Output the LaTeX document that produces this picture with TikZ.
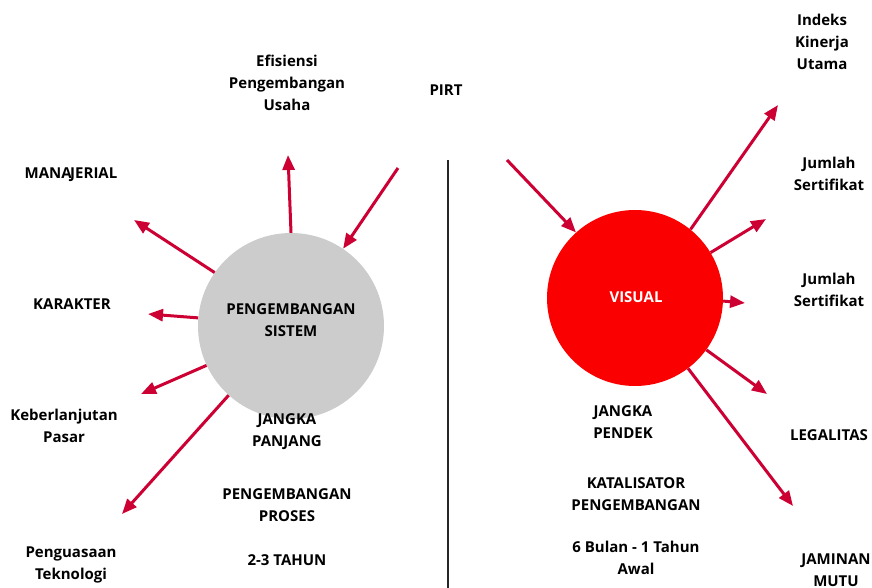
\documentclass[tikz,border=0pt]{standalone}
\usepackage{fontspec}
\setmainfont{Open Sans}
\usetikzlibrary{arrows.meta}
\definecolor{arrowred}{HTML}{CC0033}
\definecolor{ballred}{HTML}{FA0000}
\definecolor{ballgray}{HTML}{CCCCCC}
\tikzset{
  lbl/.style={align=center,font=\fontsize{15}{22}\selectfont\bfseries,inner sep=0pt},
  arr/.style={draw=arrowred,line width=3pt,-{Triangle[length=15pt,width=12pt]}},
  ball/.style={circle,inner sep=0pt}
}
\begin{document}
\begin{tikzpicture}[x=1pt,y=-1pt]
\useasboundingbox (0,0) rectangle (872,588);
% divider
\draw[line width=1.4pt,black!85] (448,160) -- (448,588);
% circles
\node[ball,fill=ballgray,minimum size=186pt] (gc) at (291,326) {};
\node[ball,fill=ballred,minimum size=176pt] (rc) at (635,298) {};
\node[lbl] (gct) at (291,320) {PENGEMBANGAN\\SISTEM};
\node[lbl,text=white] (rct) at (636,297) {VISUAL};
% coordinates
\coordinate (a1) at (288,155);
\coordinate (a2) at (134,220);
\coordinate (a3) at (148,314);
\coordinate (a4) at (141,394);
\coordinate (a5) at (122,514);
\coordinate (a6) at (398,168);
\coordinate (b1) at (507,160);
\coordinate (b2) at (778,105);
\coordinate (b3) at (766,219);
\coordinate (b4) at (745,303);
\coordinate (b5) at (767,394);
\coordinate (b6) at (793,506);
% left arrows
\draw[arr] (gc.90.6) -- (a1);
\draw[arr] (gc.145.6) -- (a2);
\draw[arr] (gc.175) -- (a3);
\draw[arr] (gc.205) -- (a4);
\draw[arr] (gc.228) -- (a5);
\draw[arr] (a6) -- (gc.56.6);
% right arrows
\draw[arr] (b1) -- (rc.132.8);
\draw[arr] (rc.51.5) -- (b2);
\draw[arr] (rc.31) -- (b3);
\draw[arr] (rc.-2.6) -- (b4);
\draw[arr] (rc.-36.9) -- (b5);
\draw[arr] (rc.-53) -- (b6);
% labels left
\node[lbl] (t1) at (287,83) {Efisiensi\\Pengembangan\\Usaha};
\node[lbl] (t2) at (446,90) {PIRT};
\node[lbl] (t3) at (71,175) {MANA\kern-1.5pt JERIAL};
\node[lbl] (t4) at (72,304) {KARAKTER};
\node[lbl] (t5) at (64,426) {Keberlanjutan\\Pasar};
\node[lbl] (t6) at (71,565) {Penguasaan\\Teknologi};
\node[lbl] (t7) at (287,432) {JANGKA\\PANJANG};
\node[lbl] (t8) at (287,505) {PENGEMBANGAN\\PROSES};
\node[lbl] (t9) at (287,560) {2-3 TAHUN};
% labels right
\node[lbl] (u1) at (822,42) {Indeks\\Kinerja\\Utama};
\node[lbl] (u2) at (829,174) {Jumlah\\Sertifikat};
\node[lbl] (u3) at (829,290) {Jumlah\\Sertifikat};
\node[lbl] (u4) at (829,435) {LEGALITAS};
\node[lbl] (u5) at (623,422) {JANGKA\\PENDEK};
\node[lbl] (u6) at (636,494) {KATALISATOR\\PENGEMBANGAN};
\node[lbl] (u7) at (636,558) {6 Bulan - 1 Tahun\\Awal};
\node[lbl] (u8) at (836,570) {JAMINAN\\MUTU};
\end{tikzpicture}
\end{document}
